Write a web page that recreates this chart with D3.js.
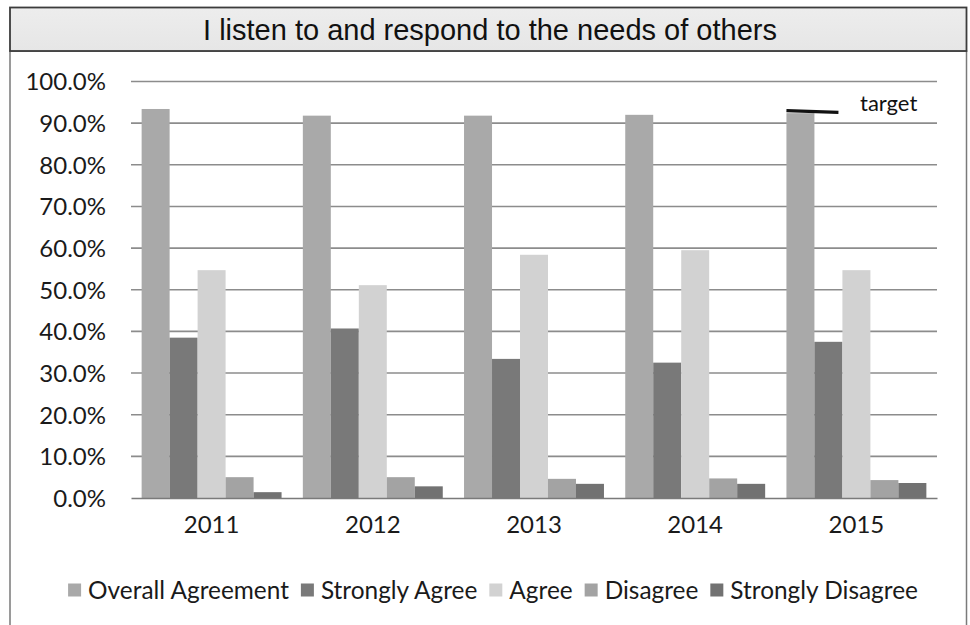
<!DOCTYPE html>
<html>
<head>
<meta charset="utf-8">
<script src="https://cdn.jsdelivr.net/npm/d3@7"></script>
<style>
  html, body { margin: 0; padding: 0; background: #ffffff; }
  svg { display: block; }
</style>
</head>
<body>
<svg id="chart" width="970" height="625"></svg>
<script>
// Survey responses per year (percent)
const years = ["2011", "2012", "2013", "2014", "2015"];
const seriesNames = ["Overall Agreement", "Strongly Agree", "Agree", "Disagree", "Strongly Disagree"];
const overallAgreement = [93.4, 91.8, 91.8, 92.0, 92.4];
const stronglyAgree    = [38.5, 40.7, 33.4, 32.5, 37.5];
const agree            = [54.7, 51.1, 58.4, 59.5, 54.7];
const disagree         = [5.0, 5.0, 4.6, 4.7, 4.3];
const stronglyDisagree = [1.4, 2.8, 3.4, 3.4, 3.6];
const yTicks = [0, 10, 20, 30, 40, 50, 60, 70, 80, 90, 100];
// Target marker on the latest year: start and end values of the short line
const targetYear = "2015";
const targetValues = [93.0, 92.6];
const titleText = "I listen to and respond to the needs of others";

const seriesValues = [overallAgreement, stronglyAgree, agree, disagree, stronglyDisagree];
const seriesColors = ["#a9a9a9", "#797979", "#d2d2d2", "#a3a3a3", "#727272"];

const svg = d3.select("#chart");
const plot = { left: 131, right: 937, top: 81.5, bottom: 498 };
const labelFont = "Lato, 'Open Sans', sans-serif";

// Outer frame of the chart
svg.append("rect")
  .attr("x", 10).attr("y", 51).attr("width", 956.5).attr("height", 580)
  .attr("fill", "#ffffff").attr("stroke", "#7a7a7a").attr("stroke-width", 1.5);

// Title banner
const grad = svg.append("defs").append("linearGradient")
  .attr("id", "titleFill").attr("x1", 0).attr("y1", 0).attr("x2", 0).attr("y2", 1);
grad.append("stop").attr("offset", "0%").attr("stop-color", "#ededed");
grad.append("stop").attr("offset", "100%").attr("stop-color", "#e6e6e6");
svg.append("rect")
  .attr("x", 10).attr("y", 7.5).attr("width", 956.5).attr("height", 43.5)
  .attr("fill", "url(#titleFill)").attr("stroke", "#3c3c3c").attr("stroke-width", 1.8);
svg.append("text")
  .attr("x", 490).attr("y", 30).attr("text-anchor", "middle")
  .attr("dominant-baseline", "central")
  .attr("font-family", "'Liberation Sans', Arial, sans-serif")
  .attr("font-size", 29).attr("fill", "#111")
  .text(titleText);

// Scales
const y = d3.scaleLinear().domain([0, 100]).range([plot.bottom, plot.top]);
const x0 = d3.scaleBand().domain(years).range([plot.left, plot.right]).padding(0);
const x1 = d3.scaleBand().domain(seriesNames).range([0, x0.bandwidth()])
  .paddingInner(0).paddingOuter(0.38);

// Gridlines
svg.append("g").selectAll("line").data(yTicks.filter(d => d > 0)).join("line")
  .attr("x1", plot.left).attr("x2", plot.right)
  .attr("y1", d => y(d)).attr("y2", d => y(d))
  .attr("stroke", "#8c8c8c").attr("stroke-width", 1.6);

// Y axis labels
const yAxis = d3.axisLeft(y).tickValues(yTicks).tickSize(0).tickPadding(0)
  .tickFormat(d => d.toFixed(1) + "%");
const gy = svg.append("g").attr("transform", `translate(${plot.left - 25},0)`).call(yAxis);
gy.select(".domain").remove();
gy.selectAll("text").attr("font-family", labelFont).attr("font-size", 24)
  .attr("fill", "#1a1a1a").attr("dy", "0.35em");

// Bars
const rows = years.map((yr, i) => ({ year: yr, values: seriesNames.map((s, k) => ({ series: s, value: seriesValues[k][i], k })) }));
const groups = svg.append("g").selectAll("g").data(rows).join("g")
  .attr("transform", d => `translate(${x0(d.year)},0)`);
groups.selectAll("rect").data(d => d.values).join("rect")
  .attr("x", d => x1(d.series))
  .attr("width", x1.bandwidth())
  .attr("y", d => y(d.value))
  .attr("height", d => y(0) - y(d.value))
  .attr("fill", d => seriesColors[d.k]);

// X axis
const xAxis = d3.axisBottom(x0).tickSize(0).tickPadding(0);
const gx = svg.append("g").attr("transform", `translate(0,${plot.bottom})`).call(xAxis);
gx.select(".domain").attr("stroke", "#7a7a7a").attr("stroke-width", 1.6);
gx.selectAll("text").attr("font-family", labelFont).attr("font-size", 24)
  .attr("fill", "#1a1a1a").attr("dy", "1.45em");

// Target marker
const tx = x0(targetYear) + x1(seriesNames[0]);
svg.append("line")
  .attr("x1", tx).attr("x2", tx + 52)
  .attr("y1", y(targetValues[0])).attr("y2", y(targetValues[1]))
  .attr("stroke", "#111").attr("stroke-width", 3.2);
svg.append("text")
  .attr("x", 860).attr("y", 111)
  .attr("font-family", labelFont).attr("font-size", 22).attr("fill", "#111")
  .text("target");

// Legend
const legend = svg.append("g");
let cx = 0;
seriesNames.forEach((name, k) => {
  const g = legend.append("g");
  g.append("rect").attr("x", 0).attr("y", -6.5).attr("width", 13).attr("height", 13)
    .attr("fill", seriesColors[k]);
  const t = g.append("text").attr("x", 20).attr("y", 0).attr("dy", "0.35em")
    .attr("font-family", labelFont).attr("font-size", 24.4).attr("fill", "#1a1a1a")
    .text(name);
  const w = 20 + t.node().getComputedTextLength();
  g.attr("transform", `translate(${cx},0)`);
  cx += w + 12;
});
const legendWidth = cx - 12;
legend.attr("transform", `translate(${493 - legendWidth / 2},590)`);
</script>
</body>
</html>
